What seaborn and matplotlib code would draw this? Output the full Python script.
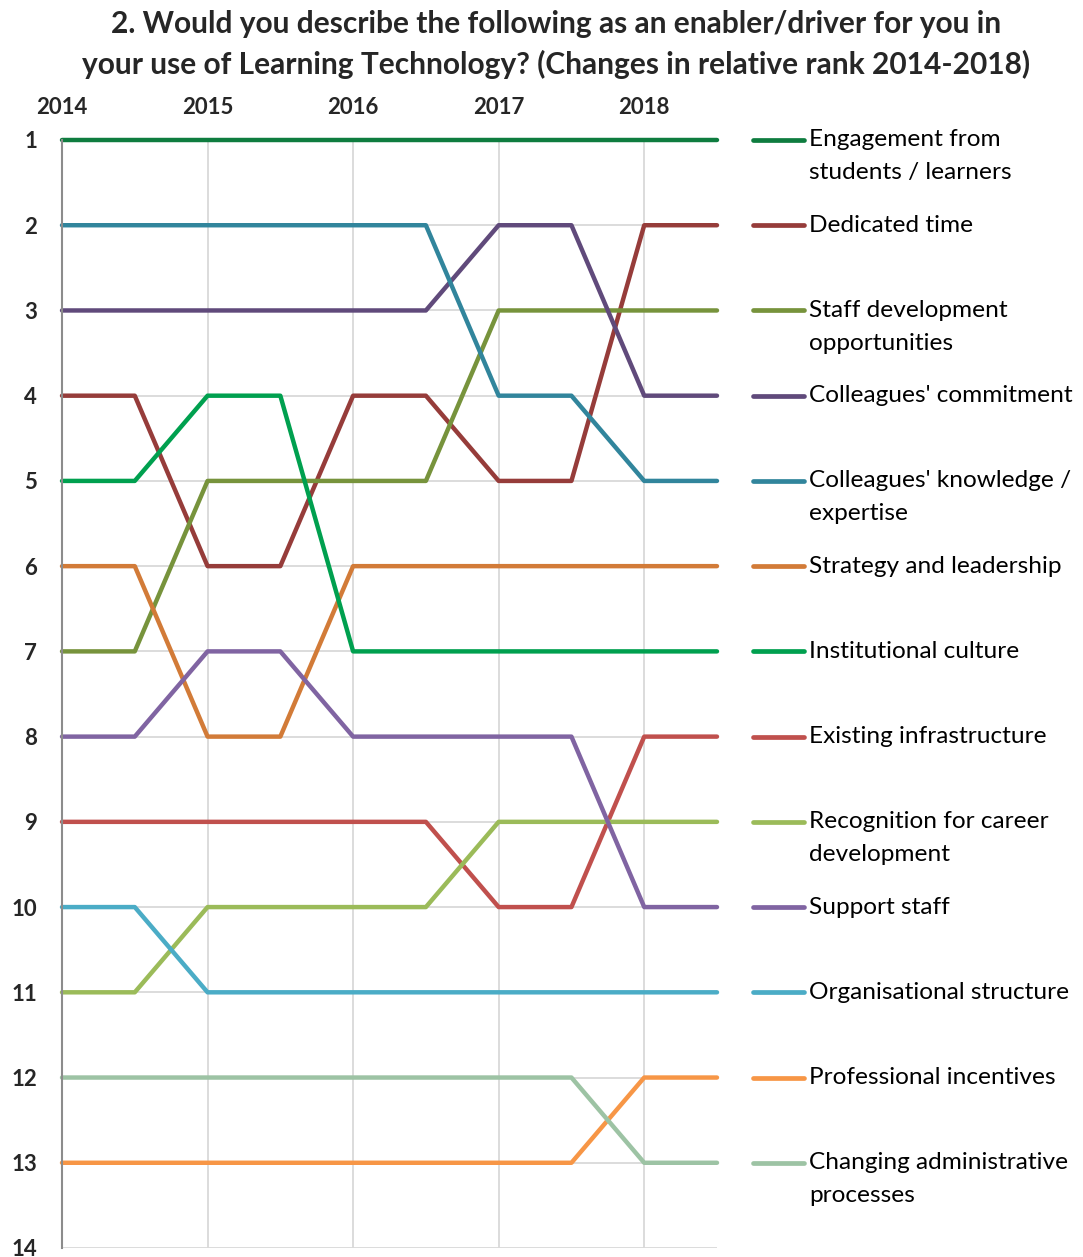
import matplotlib
matplotlib.use("Agg")
import matplotlib.pyplot as plt
import matplotlib.transforms as mtransforms
import seaborn as sns
import pandas as pd

years = [2014, 2015, 2016, 2017, 2018]
drivers = [
    "Engagement from\nstudents / learners",
    "Dedicated time",
    "Staff development\nopportunities",
    "Colleagues' commitment",
    "Colleagues' knowledge /\nexpertise",
    "Strategy and leadership",
    "Institutional culture",
    "Existing infrastructure",
    "Recognition for career\ndevelopment",
    "Support staff",
    "Organisational structure",
    "Professional incentives",
    "Changing administrative\nprocesses",
]
engagement = [1, 1, 1, 1, 1]
dedicated_time = [4, 6, 4, 5, 2]
staff_development = [7, 5, 5, 3, 3]
colleagues_commitment = [3, 3, 3, 2, 4]
colleagues_knowledge = [2, 2, 2, 4, 5]
strategy = [6, 8, 6, 6, 6]
institutional_culture = [5, 4, 7, 7, 7]
infrastructure = [9, 9, 9, 10, 8]
recognition = [11, 10, 10, 9, 9]
support_staff = [8, 7, 8, 8, 10]
org_structure = [10, 11, 11, 11, 11]
prof_incentives = [13, 13, 13, 13, 12]
admin_processes = [12, 12, 12, 12, 13]
ranks = [engagement, dedicated_time, staff_development, colleagues_commitment,
         colleagues_knowledge, strategy, institutional_culture, infrastructure,
         recognition, support_staff, org_structure, prof_incentives, admin_processes]
colors = ["#0E7C3F", "#963C3A", "#77933C", "#604A7B", "#31859C", "#D27B38",
          "#00A04F", "#C0504D", "#9BBB59", "#8064A2", "#4BACC6", "#F79646", "#9DC3A4"]
ytick_labels = [str(i) for i in range(1, 15)]

# Each year's rank is shown as a plateau lasting half a year
rows = []
for d, r in zip(drivers, ranks):
    for y, v in zip(years, r):
        rows.append({"driver": d, "x": y, "rank": v})
        rows.append({"driver": d, "x": y + 0.5, "rank": v})
df = pd.DataFrame(rows)

sns.set_theme(style="white")
plt.rcParams["font.family"] = ["Lato", "DejaVu Sans"]

fig = plt.figure(figsize=(10.83, 12.57), dpi=100)
ax = fig.add_axes([62 / 1083, 1 - 1248 / 1257, (717 - 62) / 1083, (1248 - 140) / 1257])

palette = dict(zip(drivers, colors))
sns.lineplot(data=df, x="x", y="rank", hue="driver", palette=palette, sort=False,
             hue_order=drivers, linewidth=3.2, legend=False, ax=ax,
             solid_capstyle="round", clip_on=False)

ax.set_xlim(2014, 2018.5)
ax.set_ylim(14, 1)
ax.set_yticks(range(1, 15))
ax.set_yticklabels(ytick_labels, fontsize=16, fontweight="bold")
ax.set_xticks(years)
ax.set_xticklabels([str(y) for y in years], fontsize=16, fontweight="bold")
ax.xaxis.tick_top()
ax.tick_params(axis="x", length=0, pad=16)
ax.tick_params(axis="y", length=0, pad=18)
ax.set_xlabel("")
ax.set_ylabel("")
ax.grid(True, color="#D9D9D9", linewidth=1.3)
ax.set_axisbelow(True)
for s in ["top", "right", "bottom"]:
    ax.spines[s].set_visible(False)
ax.spines["left"].set_color("#8C8C8C")
ax.spines["left"].set_linewidth(1.5)

# Legend entries placed at successive rank rows
trans = mtransforms.blended_transform_factory(fig.transFigure, ax.transData)
for i, (d, c) in enumerate(zip(drivers, colors)):
    pos = i + 1
    ax.plot([753 / 1083, 804 / 1083], [pos, pos], transform=trans, color=c,
            linewidth=3.4, solid_capstyle="round", clip_on=False)
    for j, line in enumerate(d.split("\n")):
        ax.annotate(line, xy=(809 / 1083, pos), xycoords=trans,
                    xytext=(0, -23.5 * j), textcoords="offset points",
                    ha="left", va="center", fontsize=17.6, color="black")

fig.text(0.513, 1 - 24 / 1257,
         "2. Would you describe the following as an enabler/driver for you in",
         ha="center", va="center", fontsize=21.5, fontweight="bold")
fig.text(0.513, 1 - 64 / 1257,
         "your use of Learning Technology? (Changes in relative rank 2014-2018)",
         ha="center", va="center", fontsize=21.5, fontweight="bold")

fig.savefig("out.png", dpi=100)
